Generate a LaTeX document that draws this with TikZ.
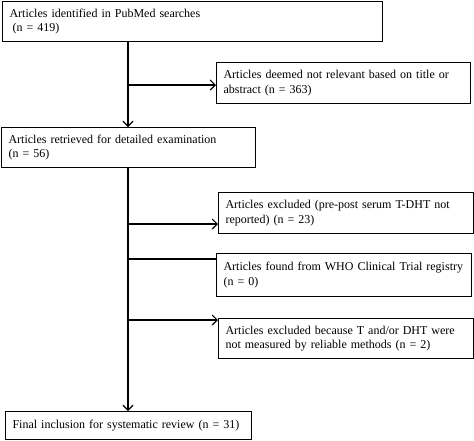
\documentclass[tikz,border=0pt]{standalone}
\usepackage{fontspec}
\setmainfont{Liberation Serif}
\usetikzlibrary{arrows.meta}
\begin{document}
\begin{tikzpicture}[x=1pt,y=-1pt,
  box/.style={draw, line width=1.1pt, anchor=north west, inner xsep=7pt, inner ysep=0pt, align=left, font=\fontsize{12}{14.5}\selectfont},
  conn/.style={line width=1.1pt},
  arr/.style={conn, -{Straight Barb[length=5pt,width=10pt]}}]
\useasboundingbox (0,0) rectangle (474,440);
\node[box, minimum width=380pt, minimum height=40pt, text width=366pt] (b1) at (2,1) {Articles identified in PubMed searches\\\hspace*{3pt}(n = 419)};
\node[box, minimum width=254pt, minimum height=41pt, text width=240pt] (b2) at (216,62) {Articles deemed not relevant based on title or abstract (n = 363)};
\node[box, minimum width=254pt, minimum height=40pt, text width=240pt] (b3) at (1,127) {Articles retrieved for detailed examination\\(n = 56)};
\node[box, minimum width=255pt, minimum height=41pt, text width=241pt] (b4) at (218,192) {Articles excluded (pre-post serum T-DHT not reported) (n = 23)};
\node[box, minimum width=255pt, minimum height=43pt, text width=241pt] (b5) at (216,253) {Articles found from WHO Clinical Trial registry\\(n = 0)};
\node[box, minimum width=255pt, minimum height=40pt, text width=241pt] (b6) at (218,318) {Articles excluded because T and/or DHT were not measured by reliable methods (n = 2)};
\node[box, minimum width=246pt, minimum height=28pt, text width=232pt] (b7) at (5,411) {Final inclusion for systematic review (n = 31)};
\coordinate (j2) at (128,85);
\coordinate (j4) at (128,224);
\coordinate (j5) at (128,259);
\coordinate (j6) at (128,320);
\draw[arr] (b1.south -| j2) -- (b3.north -| j2);
\draw[arr] (j2) -- (j2 -| b2.west);
\draw[arr] (b3.south -| j4) -- (b7.north -| j4);
\draw[arr] (j4) -- (j4 -| b4.west);
\draw[conn] (j5) -- (j5 -| b5.west);
\draw[arr] (j6) -- (j6 -| b6.west);
\end{tikzpicture}
\end{document}
